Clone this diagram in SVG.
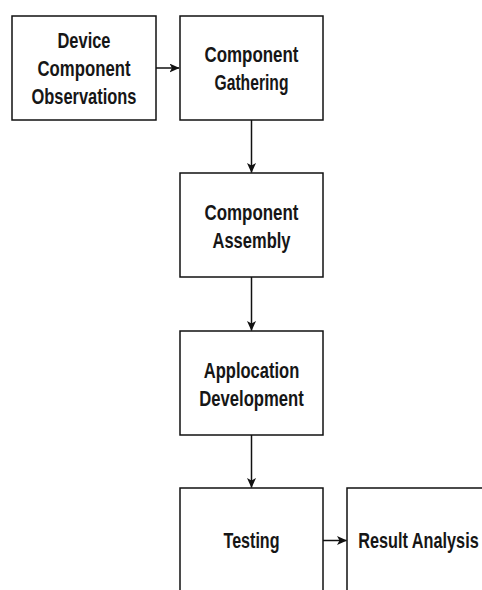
<svg xmlns="http://www.w3.org/2000/svg" width="482" height="590" viewBox="0 0 482 590">
<style>
.box{fill:#ffffff;stroke:#111111;stroke-width:1.5}
.lbl{font-family:"Liberation Sans",Arial,sans-serif;font-weight:bold;font-size:22px;fill:#161616;text-anchor:middle}
.edge{stroke:#111111;stroke-width:1.5;fill:none}
</style>
<defs>
<marker id="ah" viewBox="0 0 10 10" refX="9.5" refY="5" markerWidth="10" markerHeight="9" markerUnits="userSpaceOnUse" orient="auto" preserveAspectRatio="none">
<path d="M0,0 L10,5 L0,10 L2.5,5 z" fill="#111111"/>
</marker>
</defs>
<rect width="482" height="590" fill="#ffffff"/>
<g id="connectors">
<line class="edge" x1="156" y1="68" x2="179" y2="68" marker-end="url(#ah)"/>
<line class="edge" x1="251.5" y1="120" x2="251.5" y2="172.5" marker-end="url(#ah)"/>
<line class="edge" x1="251.5" y1="277" x2="251.5" y2="330.5" marker-end="url(#ah)"/>
<line class="edge" x1="251.5" y1="435" x2="251.5" y2="487.5" marker-end="url(#ah)"/>
<line class="edge" x1="323" y1="540.5" x2="346.5" y2="540.5" marker-end="url(#ah)"/>
</g>
<g id="device-component-observations">
<rect class="box" x="12" y="16" width="144" height="104"/>
<text class="lbl" x="84" y="47.5" textLength="53" lengthAdjust="spacingAndGlyphs">Device</text>
<text class="lbl" x="84" y="76" textLength="93" lengthAdjust="spacingAndGlyphs">Component</text>
<text class="lbl" x="84" y="104" textLength="105" lengthAdjust="spacingAndGlyphs">Observations</text>
</g>
<g id="component-gathering">
<rect class="box" x="180" y="16" width="143" height="104"/>
<text class="lbl" x="251.5" y="62" textLength="94" lengthAdjust="spacingAndGlyphs">Component</text>
<text class="lbl" x="251.5" y="90" textLength="74" lengthAdjust="spacingAndGlyphs">Gathering</text>
</g>
<g id="component-assembly">
<rect class="box" x="180" y="173" width="143" height="104"/>
<text class="lbl" x="251.5" y="219.5" textLength="94" lengthAdjust="spacingAndGlyphs">Component</text>
<text class="lbl" x="251.5" y="247.5" textLength="78" lengthAdjust="spacingAndGlyphs">Assembly</text>
</g>
<g id="application-development">
<rect class="box" x="180" y="331" width="143" height="104"/>
<text class="lbl" x="251.5" y="377.5" textLength="95.5" lengthAdjust="spacingAndGlyphs">Applocation</text>
<text class="lbl" x="251.5" y="405.5" textLength="104.5" lengthAdjust="spacingAndGlyphs">Development</text>
</g>
<g id="testing">
<rect class="box" x="180" y="488" width="143" height="104"/>
<text class="lbl" x="251.5" y="547.5" textLength="56" lengthAdjust="spacingAndGlyphs">Testing</text>
</g>
<g id="result-analysis">
<rect class="box" x="347" y="488" width="144" height="104"/>
<text class="lbl" transform="translate(418.5,547.5) scale(0.739,1)" x="0" y="0">Result Analysis</text>
</g>
</svg>
